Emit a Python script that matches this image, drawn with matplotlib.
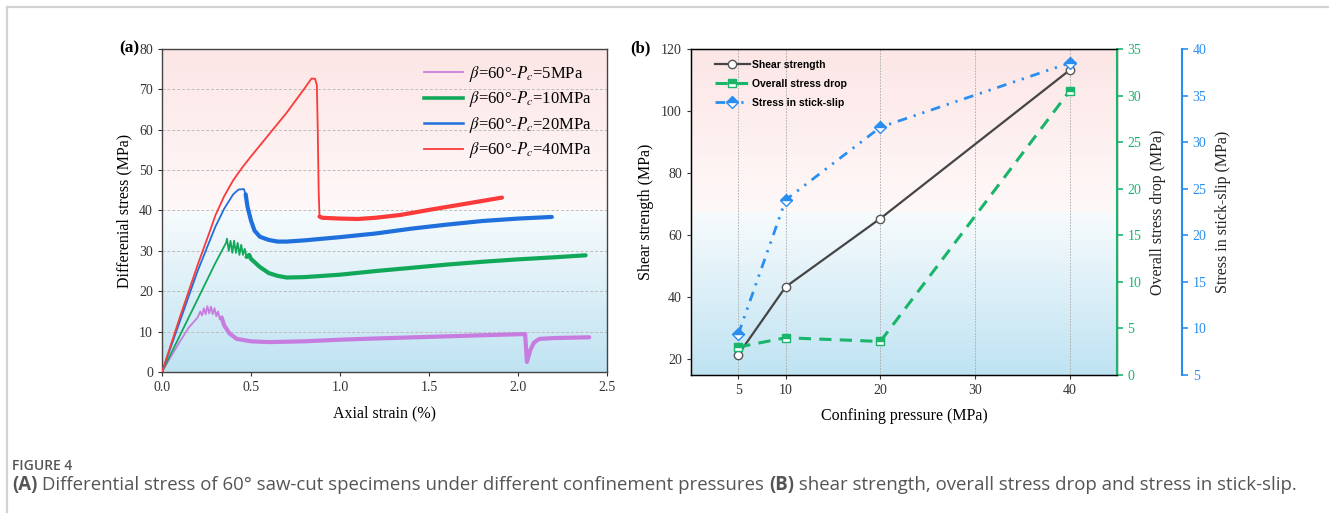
import numpy as np
import matplotlib
matplotlib.use("Agg")
import matplotlib.pyplot as plt
from matplotlib.lines import Line2D

plt.rcParams['font.family'] = ['Liberation Serif', 'DejaVu Serif']
plt.rcParams['mathtext.fontset'] = 'stix'

# ---------------- Panel (a) data ----------------
strain_5 = [0, 0.05, 0.1, 0.15, 0.2, 0.215, 0.225, 0.235, 0.245, 0.255, 0.265, 0.275, 0.285,
            0.295, 0.305, 0.315, 0.325, 0.335, 0.35, 0.38, 0.42, 0.5, 0.6, 0.8, 1.0, 1.2, 1.5,
            1.8, 2.04, 2.045, 2.05, 2.07, 2.09, 2.12, 2.2, 2.4]
stress_5 = [0, 3.8, 7.5, 11.0, 13.5, 15.0, 14.0, 15.8, 14.3, 16.3, 14.5, 16.2, 14.3,
            15.8, 13.8, 15.0, 13.0, 13.5, 11.5, 9.5, 8.2, 7.6, 7.4, 7.6, 8.0, 8.3, 8.7,
            9.1, 9.4, 6.0, 2.5, 5.5, 7.3, 8.2, 8.4, 8.6]

strain_10 = [0, 0.1, 0.2, 0.3, 0.36, 0.365, 0.375, 0.385, 0.395, 0.405, 0.415, 0.425, 0.435,
             0.445, 0.455, 0.465, 0.475, 0.49, 0.5, 0.55, 0.6, 0.65, 0.7, 0.8, 1.0, 1.2, 1.4,
             1.6, 1.8, 2.0, 2.2, 2.38]
stress_10 = [0, 9.0, 18.0, 27.0, 32.0, 33.0, 30.0, 32.5, 29.5, 32.5, 29.5, 32.0, 29.0,
             31.5, 29.0, 30.5, 28.5, 29.0, 28.0, 26.0, 24.5, 23.8, 23.4, 23.5, 24.1, 25.0, 25.8,
             26.6, 27.3, 27.9, 28.4, 28.9]

strain_20 = [0, 0.1, 0.2, 0.3, 0.35, 0.4, 0.43, 0.46, 0.47, 0.48, 0.5, 0.52, 0.55, 0.6, 0.65,
             0.7, 0.8, 1.0, 1.2, 1.4, 1.6, 1.8, 2.0, 2.19]
stress_20 = [0, 12.5, 25.0, 36.0, 40.5, 44.0, 45.2, 45.3, 44.0, 41.0, 37.5, 35.0, 33.5, 32.7,
             32.3, 32.3, 32.6, 33.4, 34.3, 35.5, 36.5, 37.4, 38.0, 38.4]

strain_40 = [0, 0.1, 0.2, 0.27, 0.3, 0.35, 0.4, 0.45, 0.5, 0.55, 0.6, 0.65, 0.7, 0.75, 0.8,
             0.84, 0.86, 0.87, 0.875, 0.88, 0.885, 0.9, 1.0, 1.1, 1.2, 1.34, 1.52, 1.71, 1.91]
stress_40 = [0, 13.5, 26.5, 35.0, 38.8, 43.6, 47.5, 50.6, 53.4, 56.1, 58.8, 61.5, 64.2, 67.2,
             70.2, 72.7, 72.6, 71.0, 60.0, 45.0, 38.5, 38.2, 38.0, 37.9, 38.2, 38.9, 40.3, 41.7, 43.2]

labels_a = [r'$\beta$=60°-$P_c$=5MPa', r'$\beta$=60°-$P_c$=10MPa',
            r'$\beta$=60°-$P_c$=20MPa', r'$\beta$=60°-$P_c$=40MPa']
colors_a = ['#c77ddf', '#12a85a', '#1f6fdc', '#fb3a3a']

# ---------------- Panel (b) data ----------------
pressure = [5, 10, 20, 40]
shear_strength = [21.6, 43.4, 65.4, 113.2]
overall_drop = [3.0, 4.0, 3.6, 30.5]
stick_slip = [9.4, 23.8, 31.6, 38.5]

W, H = 1329, 515
fig = plt.figure(figsize=(W / 100, H / 100), dpi=100)


def gradient_img(n=300):
    f = np.linspace(0, 1, n)
    img = np.zeros((n, 1, 3))
    blue0 = np.array([0.75, 0.89, 0.95])
    blue1 = np.array([0.97, 0.985, 0.99])
    pink0 = np.array([1.0, 0.975, 0.975])
    pink1 = np.array([0.99, 0.9, 0.9])
    for i, v in enumerate(f):
        if v < 0.5:
            t = v / 0.5
            img[i, 0] = blue0 + (blue1 - blue0) * t
        else:
            t = (v - 0.5) / 0.5
            img[i, 0] = pink0 + (pink1 - pink0) * t
    return img


def px_rect(l, r, t, b):
    return [l / W, 1 - b / H, (r - l) / W, (b - t) / H]


TICK = 10

# ---- panel (a) ----
pos_a = px_rect(162, 607, 49, 372)
bg_a = fig.add_axes(pos_a, zorder=-1)
bg_a.imshow(gradient_img(), aspect='auto', origin='lower', extent=(0, 1, 0, 1))
bg_a.axis('off')

axa = fig.add_axes(pos_a)
axa.patch.set_visible(False)
series_a = [(strain_5, stress_5), (strain_10, stress_10), (strain_20, stress_20), (strain_40, stress_40)]
thick_from = [0.33, 0.47, 0.47, 0.885]
for (x, y), c, lab, s0 in zip(series_a, colors_a, labels_a, thick_from):
    x = np.asarray(x); y = np.asarray(y)
    axa.plot(x, y, color=c, lw=1.3, label=lab, zorder=3)
    m = x >= s0
    axa.plot(x[m], y[m], color=c, lw=3.0, zorder=3, solid_capstyle='round')

axa.set_xlim(0, 2.5)
axa.set_ylim(0, 80)
axa.set_xticks(np.arange(0, 2.51, 0.5))
axa.set_xticklabels(['0.0', '0.5', '1.0', '1.5', '2.0', '2.5'])
axa.set_yticks(np.arange(0, 81, 10))
for v in range(10, 80, 10):
    axa.axhline(v, color='#bdbdbd', lw=0.7, ls=(0, (3, 2)), zorder=1)
axa.tick_params(labelsize=TICK, direction='out', length=3, width=0.8, colors='#333333')
for s in axa.spines.values():
    s.set_color('#444444'); s.set_linewidth(1.0)
axa.set_xlabel('Axial strain (%)', fontsize=11.5, labelpad=8)
axa.set_ylabel('Differenial stress (MPa)', fontsize=11.5, labelpad=5)
leg_handles = [Line2D([], [], color=colors_a[0], lw=1.3),
               Line2D([], [], color=colors_a[1], lw=2.6),
               Line2D([], [], color=colors_a[2], lw=1.8),
               Line2D([], [], color=colors_a[3], lw=1.3)]
axa.legend(leg_handles, labels_a, loc='upper right', frameon=False, fontsize=12,
           handlelength=2.3, handletextpad=0.4, labelspacing=0.33,
           bbox_to_anchor=(1.0, 1.0))
fig.text(129 / W, 1 - 48 / H, '(a)', fontsize=12.5, fontweight='bold', ha='center', va='center')

# ---- panel (b) ----
pos_b = px_rect(691, 1117, 49, 375)
bg_b = fig.add_axes(pos_b, zorder=-1)
bg_b.imshow(gradient_img(), aspect='auto', origin='lower', extent=(0, 1, 0, 1))
bg_b.axis('off')

axb = fig.add_axes(pos_b)
axb.patch.set_visible(False)
green = '#18b56a'
blue = '#2a8ef0'
for v in [5, 10, 20, 30, 40]:
    axb.axvline(v, color='#a9a9a9', lw=0.6, ls=(0, (2, 1.5)), zorder=1)
l1, = axb.plot(pressure, shear_strength, color='#454545', lw=1.6, marker='o', ms=6,
               mfc='white', mec='#555555', mew=1.0, zorder=4, label='Shear strength')
axb.set_xlim(0, 45)
axb.set_ylim(15, 120)
axb.set_xticks([5, 10, 20, 30, 40])
axb.set_yticks([20, 40, 60, 80, 100, 120])
axb.tick_params(labelsize=TICK, direction='out', length=3, width=0.8, colors='#333333')
for s in axb.spines.values():
    s.set_color('#444444'); s.set_linewidth(1.0)
axb.set_xlabel('Confining pressure (MPa)', fontsize=11.5, labelpad=8)
axb.set_ylabel('Shear strength (MPa)', fontsize=11.5, labelpad=5)

ax2 = axb.twinx()
l2, = ax2.plot(pressure, overall_drop, color=green, lw=2.2, dashes=(4, 2.7), marker='s', ms=6,
               fillstyle='top', mfc=green, mfcalt='white', mec=green, mew=1.0, zorder=4,
               label='Overall stress drop')
ax2.set_ylim(0, 35)
ax2.set_yticks(np.arange(0, 36, 5))
ax2.spines['right'].set_color(green)
ax2.spines['right'].set_linewidth(1.5)
ax2.tick_params(axis='y', labelsize=TICK, colors=green, direction='out', length=4, width=1.2)
ax2.set_ylabel('Overall stress drop (MPa)', fontsize=11.5, color='#222222', labelpad=6)

ax3 = axb.twinx()
ax3.spines['right'].set_position(('outward', 47))
l3, = ax3.plot(pressure, stick_slip, color=blue, lw=2.0, dashes=(3.5, 2.5, 0.8, 2.5, 0.8, 2.5),
               marker='D', ms=6.5, fillstyle='top', mfc=blue, mfcalt='white', mec=blue, mew=1.0,
               zorder=4, label='Stress in stick-slip')
ax3.set_ylim(5, 40)
ax3.set_yticks(np.arange(5, 41, 5))
ax3.spines['right'].set_color(blue)
ax3.spines['right'].set_linewidth(1.5)
ax3.tick_params(axis='y', labelsize=TICK, colors=blue, direction='out', length=4, width=1.2)
ax3.set_ylabel('Stress in stick-slip (MPa)', fontsize=11.5, color='#222222', labelpad=6)

axb.legend([l1, l2, l3], ['Shear strength', 'Overall stress drop', 'Stress in stick-slip'],
           loc='upper left', bbox_to_anchor=(0.035, 0.995), frameon=False,
           prop={'family': 'Liberation Sans', 'size': 7.5, 'weight': 'bold'},
           handlelength=3.3, handletextpad=0.2, labelspacing=0.85)
fig.text(651 / W, 1 - 48 / H, '(b)', fontsize=12, fontweight='bold', ha='right', va='center')

# ---- frame & caption ----
fig.add_artist(Line2D([7 / W, 1], [1 - 7 / H, 1 - 7 / H], transform=fig.transFigure,
                      color='#d2d2d2', lw=1.6))
fig.add_artist(Line2D([7 / W, 7 / W], [1 - 7 / H, 1 - 512 / H], transform=fig.transFigure,
                      color='#d2d2d2', lw=1.6))
cap_font = ['Open Sans', 'DejaVu Sans']
fig.text(12 / W, 1 - 466 / H, 'FIGURE 4', fontsize=10, color='#555555', fontweight='semibold',
         family=cap_font, ha='left', va='center')

caption_parts = [('(A)', 'bold'),
                 (' Differential stress of 60° saw-cut specimens under different confinement pressures ', 'normal'),
                 ('(B)', 'bold'),
                 (' shear strength, overall stress drop and stress in stick-slip.', 'normal')]
renderer = fig.canvas.get_renderer()
xpix = 12.0
for txt, wt in caption_parts:
    t = fig.text(xpix / W, 1 - 485 / H, txt, fontsize=13.45, color='#555555', fontweight=wt,
                 family=cap_font, ha='left', va='center')
    bb = t.get_window_extent(renderer=renderer)
    xpix += bb.width

fig.savefig('out.png', dpi=100)
